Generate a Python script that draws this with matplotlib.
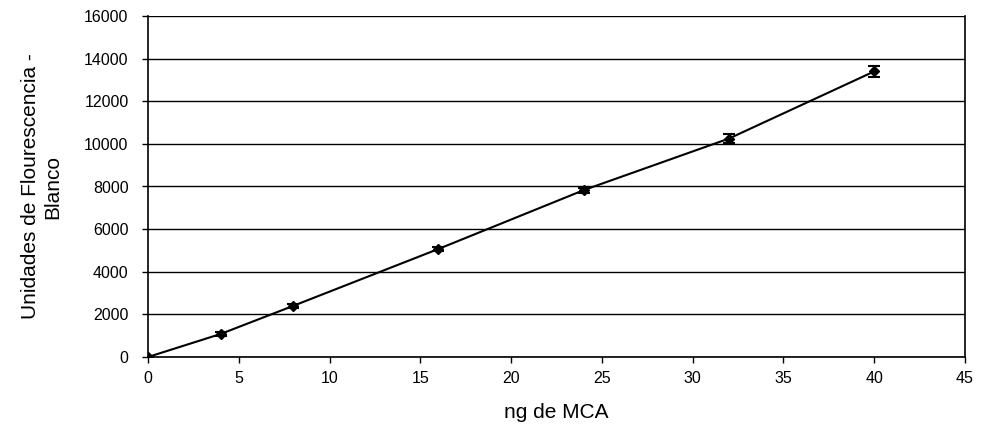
import matplotlib
matplotlib.use("Agg")
import matplotlib.pyplot as plt

plt.rcParams['font.family'] = ['Liberation Sans', 'DejaVu Sans']

ng_mca = [0, 4, 8, 16, 24, 32, 40]
fluor = [0, 1080, 2400, 5070, 7830, 10250, 13400]
err = [0, 80, 80, 100, 120, 200, 250]
x_ticks = [0, 5, 10, 15, 20, 25, 30, 35, 40, 45]
y_ticks = [0, 2000, 4000, 6000, 8000, 10000, 12000, 14000, 16000]

fig = plt.figure(figsize=(9.84, 4.36), dpi=100)
ax = fig.add_axes([148/984, 1-357/436, (965-148)/984, (357-16)/436])

ax.errorbar(ng_mca, fluor, yerr=err, color='black', lw=1.5, marker='D',
            markersize=5, capsize=4, elinewidth=1.2, capthick=1.5, zorder=3)

ax.set_xlim(0, 45)
ax.set_ylim(0, 16000)
ax.set_xticks(x_ticks)
ax.set_yticks(y_ticks)
ax.yaxis.grid(True, color='black', lw=1)
ax.set_axisbelow(True)
for s in ['left', 'bottom', 'right']:
    ax.spines[s].set_color('black')
    ax.spines[s].set_linewidth(1.2)
ax.spines['top'].set_visible(False)
ax.tick_params(axis='both', labelsize=11.5, length=4, width=1, direction='out', colors='black')
ax.tick_params(axis='y', pad=10)
ax.tick_params(axis='x', pad=6)

ax.set_xlabel('ng de MCA', fontsize=15, labelpad=12)
ax.set_ylabel('Unidades de Flourescencia -\nBlanco', fontsize=15, labelpad=16)

fig.savefig('out.png', dpi=100)
